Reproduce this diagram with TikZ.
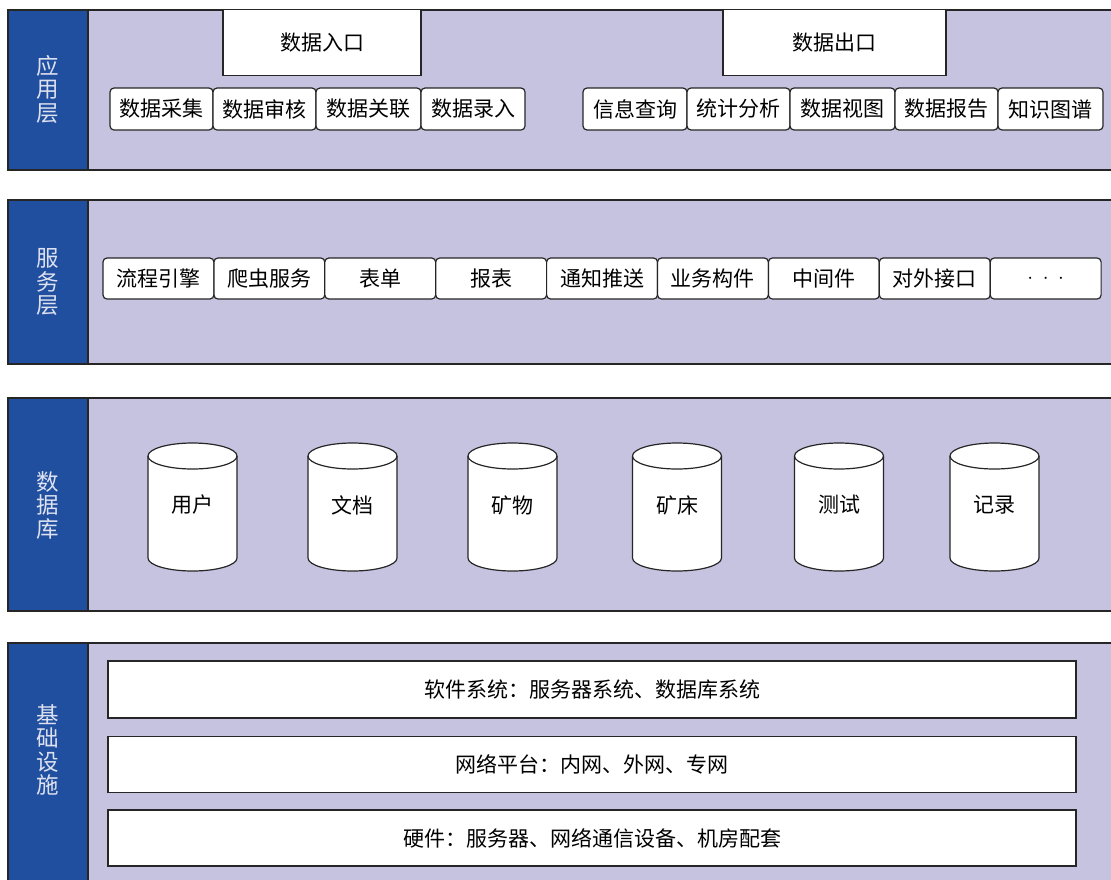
\documentclass[tikz,border=0pt]{standalone}
\usepackage{fontspec}
\newfontfamily\cjk{Noto Sans CJK SC}
\definecolor{lav}{RGB}{197,195,223}
\definecolor{blu}{RGB}{33,79,160}
\definecolor{labc}{RGB}{222,226,240}
\tikzset{
  layer/.style={draw=black!85, line width=1.6pt, fill=lav},
  colbox/.style={draw=black!85, line width=1.6pt, fill=blu},
  item/.style={draw=black!85, fill=white, rounded corners=4pt, line width=1.2pt,
    minimum height=42pt, inner sep=0pt, font=\cjk\fontsize{21}{21}\selectfont},
  portal/.style={draw=black!85, fill=white, line width=1.2pt, inner sep=0pt,
    minimum height=66pt, font=\cjk\fontsize{21}{21}\selectfont},
  wide/.style={draw=black!85, fill=white, line width=1.2pt, inner sep=0pt,
    minimum width=968pt, font=\cjk\fontsize{21}{21}\selectfont},
  lab/.style={text=labc, align=center, inner sep=0pt, font=\cjk\fontsize{22.5}{23.5}\selectfont},
  cyltext/.style={inner sep=0pt, font=\cjk\fontsize{21}{21}\selectfont},
  cylline/.style={draw=black!85, fill=white, line width=1.2pt}
}
\newcommand\dbcyl[3]{%
  \filldraw[cylline] (#2-44.5,456) -- (#2-44.5,558)
    arc[start angle=180,end angle=360,x radius=44.5pt,y radius=13pt]
    -- (#2+44.5,456)
    arc[start angle=0,end angle=180,x radius=44.5pt,y radius=13pt] -- cycle;
  \draw[cylline,fill=none] (#2-44.5,456)
    arc[start angle=180,end angle=360,x radius=44.5pt,y radius=13pt];
  \node[cyltext] (#1) at (#2,505) {#3};
}
\begin{document}
\begin{tikzpicture}[x=1pt,y=-1pt]
\useasboundingbox (0,0) rectangle (1111,879);
\clip (0,0) rectangle (1111,879);
% layers
\path[layer] (8,10) rectangle (1120,170);
\path[colbox] (8,10) rectangle (88,170);
\path[layer] (8,200) rectangle (1120,364);
\path[colbox] (8,200) rectangle (88,364);
\path[layer] (8,398) rectangle (1120,611);
\path[colbox] (8,398) rectangle (88,611);
\path[layer] (8,643) rectangle (1120,890);
\path[colbox] (8,643) rectangle (88,890);
% labels
\node[lab] (l1) at (48,89) {应\\用\\层};
\node[lab] (l2) at (48,282) {服\\务\\层};
\node[lab] (l3) at (48,505) {数\\据\\库};
\node[lab] (l4) at (48,750) {基\\础\\设\\施};
% application layer
\node[portal, minimum width=198pt] (in) at (322,42.5) {数据入口};
\node[portal, minimum width=223pt] (out) at (834.5,42.5) {数据出口};
\node[item, minimum width=103pt] (a1) at (161.5,109) {数据采集};
\node[item, minimum width=103pt] (a2) at (264.5,109) {数据审核};
\node[item, minimum width=105pt] (a3) at (368.5,109) {数据关联};
\node[item, minimum width=104pt] (a4) at (473,109) {数据录入};
\node[item, minimum width=104pt] (b1) at (635,109) {信息查询};
\node[item, minimum width=103pt] (b2) at (738.5,109) {统计分析};
\node[item, minimum width=105pt] (b3) at (842.5,109) {数据视图};
\node[item, minimum width=103pt] (b4) at (946.5,109) {数据报告};
\node[item, minimum width=105pt] (b5) at (1050.5,109) {知识图谱};
% service layer
\foreach \t [count=\i from 0] in {流程引擎,爬虫服务,表单,报表,通知推送,业务构件,中间件,对外接口,{$\cdot\hspace{5pt}\cdot\hspace{5pt}\cdot$}}{
  \node[item, minimum width=110.9pt, minimum height=41pt] (s\i) at ({103+55.45+110.9*\i},278.5) {\t};
}
% database layer
\dbcyl{d1}{192.5}{用户}
\dbcyl{d2}{352.5}{文档}
\dbcyl{d3}{512.5}{矿物}
\dbcyl{d4}{677}{矿床}
\dbcyl{d5}{839}{测试}
\dbcyl{d6}{994.5}{记录}
% infrastructure
\node[wide, minimum height=57pt] (i1) at (592,689.5) {软件系统：服务器系统、数据库系统};
\node[wide, minimum height=56pt] (i2) at (592,764.5) {网络平台：内网、外网、专网};
\node[wide, minimum height=56pt] (i3) at (592,838) {硬件：服务器、网络通信设备、机房配套};
\end{tikzpicture}
\end{document}
